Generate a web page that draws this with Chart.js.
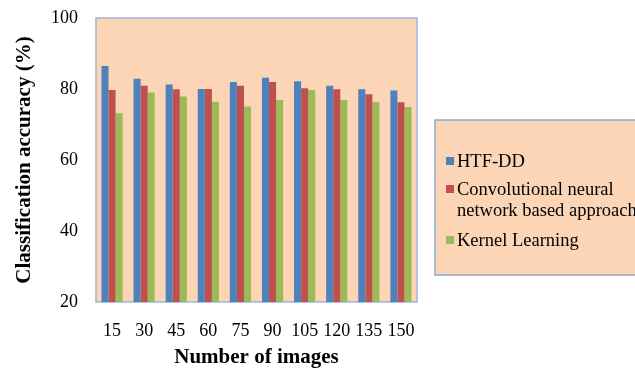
<!DOCTYPE html>
<html>
<head>
<meta charset="utf-8">
<script src="https://cdn.jsdelivr.net/npm/chart.js@4.4.1/dist/chart.umd.min.js"></script>
<style>
  html, body { margin: 0; padding: 0; background: #fff; }
  #wrap { width: 635px; height: 370px; }
</style>
</head>
<body>
<div id="wrap"><canvas id="chart" width="635" height="370"></canvas></div>
<script>
const categories = ["15", "30", "45", "60", "75", "90", "105", "120", "135", "150"];
const htfdd = [86.5, 82.9, 81.3, 80.0, 82.0, 83.2, 82.2, 80.9, 79.9, 79.6];
const cnnApproach = [79.7, 80.9, 79.9, 80.0, 80.9, 82.0, 80.2, 79.9, 78.5, 76.3];
const kernelLearning = [73.2, 79.0, 77.9, 76.4, 75.1, 76.9, 79.7, 76.9, 76.3, 74.9];
const yTicks = [20, 40, 60, 80, 100];

const serif = "'Liberation Serif', 'Times New Roman', serif";

// plot background + border
const plotBackground = {
  id: "plotBackground",
  beforeDraw(chart) {
    const { ctx, chartArea: a } = chart;
    ctx.save();
    ctx.fillStyle = "#fbd5b5";
    ctx.fillRect(a.left, a.top, a.right - a.left, a.bottom - a.top);
    ctx.strokeStyle = "#9db6d8";
    ctx.lineWidth = 1.5;
    ctx.strokeRect(a.left, a.top, a.right - a.left, a.bottom - a.top);
    ctx.restore();
  }
};

// legend box like the excel one, with a wrapped label
const sideLegend = {
  id: "sideLegend",
  afterDraw(chart) {
    const { ctx } = chart;
    const box = { x: 435, y: 120, w: 220, h: 155 };
    ctx.save();
    ctx.fillStyle = "#fbd5b5";
    ctx.fillRect(box.x, box.y, box.w, box.h);
    ctx.strokeStyle = "#8fa9d2";
    ctx.lineWidth = 1.5;
    ctx.strokeRect(box.x, box.y, box.w, box.h);
    const items = [
      { lines: ["HTF-DD"], y: 161 },
      { lines: ["Convolutional neural", "network based approach"], y: 189 },
      { lines: ["Kernel Learning"], y: 240 }
    ];
    ctx.font = "18.5px " + serif;
    ctx.textBaseline = "middle";
    items.forEach((it, i) => {
      ctx.fillStyle = chart.data.datasets[i].backgroundColor;
      ctx.fillRect(446, it.y - 4, 8, 8);
      ctx.fillStyle = "#000";
      it.lines.forEach((ln, j) => ctx.fillText(ln, 457, it.y + 1 + j * 21));
    });
    ctx.restore();
  }
};

new Chart(document.getElementById("chart"), {
  type: "bar",
  data: {
    labels: categories,
    datasets: [
      { label: "HTF-DD", data: htfdd, backgroundColor: "#4f81bd" },
      { label: "Convolutional neural network based approach", data: cnnApproach, backgroundColor: "#c0504d" },
      { label: "Kernel Learning", data: kernelLearning, backgroundColor: "#9bbb59" }
    ]
  },
  options: {
    responsive: false,
    animation: false,
    layout: { padding: { top: 18, right: 218, left: 0, bottom: 0 } },
    datasets: { bar: { categoryPercentage: 0.66, barPercentage: 1 } },
    plugins: { legend: { display: false }, tooltip: { enabled: false } },
    scales: {
      x: {
        afterFit(scale) { scale.height = 68; },
        grid: { display: false, drawTicks: false },
        border: { display: false },
        ticks: { color: "#000", font: { family: serif, size: 18 }, padding: 18, maxRotation: 0, autoSkip: false },
        title: { display: true, text: "Number of images", color: "#000", font: { family: serif, size: 21, weight: "bold" }, padding: { top: 1, bottom: 0 } }
      },
      y: {
        min: 20,
        max: 100,
        afterBuildTicks(scale) { scale.ticks = yTicks.map(v => ({ value: v })); },
        afterFit(scale) {
          scale.width = 96;
          // tick padding otherwise pushes the plot top down
          scale.paddingTop = 0;
          scale.paddingBottom = 0;
        },
        grid: { display: false, drawTicks: false },
        border: { display: false },
        ticks: { color: "#000", font: { family: serif, size: 18 }, padding: 18 },
        title: { display: true, text: "Classification accuracy (%)", color: "#000", font: { family: serif, size: 21, weight: "bold" }, padding: { top: 12, bottom: 0 } }
      }
    }
  },
  plugins: [plotBackground, sideLegend]
});
</script>
</body>
</html>
